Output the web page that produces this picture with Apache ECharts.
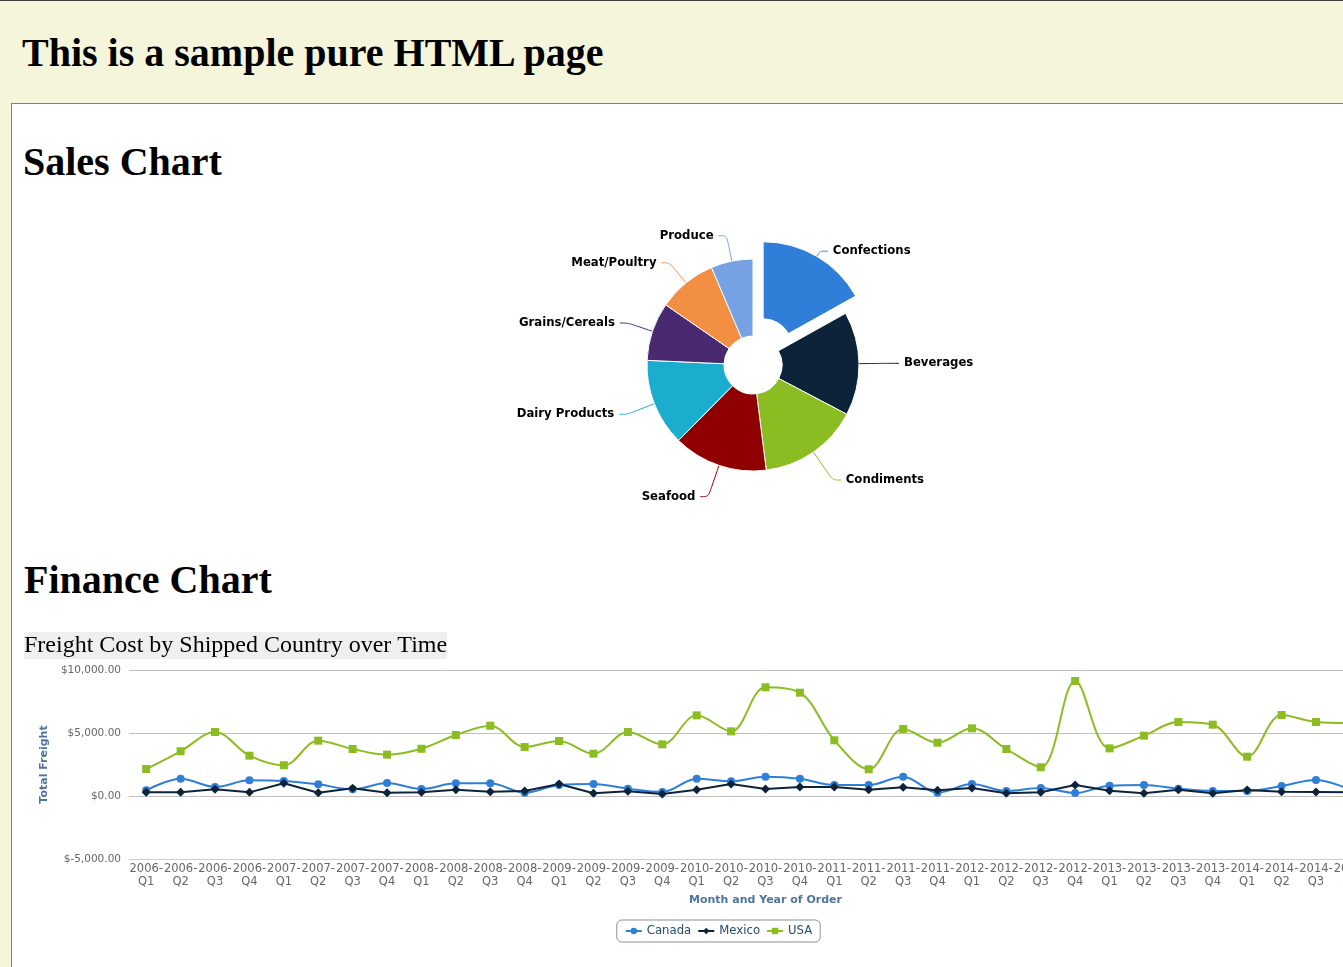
<!DOCTYPE html>
<html>
<head>
<meta charset="utf-8">
<title>This is a sample pure HTML page</title>
<script src="https://cdn.jsdelivr.net/npm/echarts@6/dist/echarts.min.js"></script>
<style>
  html, body { margin: 0; padding: 0; width: 1343px; height: 967px; overflow: hidden; }
  body { background: #f5f5dc; position: relative; }
  .topline { position: absolute; left: 0; top: 0; width: 1343px; height: 1px; background: #3c3c3c; }
  h1, h2 { position: absolute; margin: 0; font-family: "Liberation Serif", "Times New Roman", serif;
           font-weight: bold; font-size: 40px; line-height: 40px; color: #000; white-space: nowrap; }
  #pageTitle { left: 22px; top: 33px; }
  .panel { position: absolute; left: 11px; top: 103px; width: 1400px; height: 900px;
           background: #fff; border-left: 1px solid #808080; border-top: 1px solid #808080; }
  #salesTitle { left: 23px; top: 142px; }
  #financeTitle { left: 24px; top: 560px; }
  #pie { position: absolute; left: 12px; top: 190px; width: 1400px; height: 360px; }
  #line { position: absolute; left: 24px; top: 631px; width: 1389px; height: 330px; }
</style>
</head>
<body>
<div class="topline"></div>
<h1 id="pageTitle">This is a sample pure HTML page</h1>
<div class="panel"></div>
<h2 id="salesTitle">Sales Chart</h2>
<div id="pie"></div>
<h2 id="financeTitle">Finance Chart</h2>
<div id="line"></div>
<script>
  // pie: share of sales by category (clockwise from 12 o'clock)
  const categories = ['Confections', 'Beverages', 'Condiments', 'Seafood',
                      'Dairy Products', 'Grains/Cereals', 'Meat/Poultry', 'Produce'];
  const categorySales = [16.9, 15.8, 15.3, 14.4, 13.3, 8.9, 9.0, 6.4];
  const categoryColors = ['#2f7ed8', '#0d233a', '#8bbc21', '#910000',
                          '#1aadce', '#492970', '#f28f43', '#77a1e5'];

  // line: freight per quarter (last quarter is outside the visible page)
  const quarters = [
    '2006-Q1', '2006-Q2', '2006-Q3', '2006-Q4', '2007-Q1', '2007-Q2', '2007-Q3', '2007-Q4',
    '2008-Q1', '2008-Q2', '2008-Q3', '2008-Q4', '2009-Q1', '2009-Q2', '2009-Q3', '2009-Q4',
    '2010-Q1', '2010-Q2', '2010-Q3', '2010-Q4', '2011-Q1', '2011-Q2', '2011-Q3', '2011-Q4',
    '2012-Q1', '2012-Q2', '2012-Q3', '2012-Q4', '2013-Q1', '2013-Q2', '2013-Q3', '2013-Q4',
    '2014-Q1', '2014-Q2', '2014-Q3', '2014-Q4', '2015-Q1'
  ];
  const canada = [450, 1375, 714, 1245, 1190, 925, 530, 1030, 555, 1005, 1005, 265,
                  873, 952, 580, 317, 1375, 1164, 1534, 1375, 873, 873, 1534, 265,
                  952, 397, 635, 238, 820, 873, 580, 397, 397, 794, 1270, 500, null];
  const mexico = [290, 290, 530, 290, 1005, 265, 610, 265, 290, 500, 340, 397,
                  952, 212, 370, 160, 500, 952, 555, 714, 714, 500, 690, 450,
                  635, 212, 290, 873, 424, 212, 500, 212, 476, 340, 317, 300, null];
  const usa = [2140, 3550, 5080, 3200, 2440, 4390, 3730, 3280, 3750, 4840, 5580, 3890,
               4365, 3360, 5080, 4100, 6400, 5130, 8630, 8200, 4420, 2120, 5320, 4230,
               5370, 3730, 2280, 9130, 3780, 4790, 5870, 5660, 3120, 6430, 5870, 5780, null];
  const yTicks = { min: -5000, max: 10000, step: 5000 };

  const FONT = '"DejaVu Sans", Verdana, sans-serif';

  function money(v) {
    const sign = v < 0 ? '-' : '';
    const s = Math.abs(v).toFixed(2).replace(/\B(?=(\d{3})+(?!\d))/g, ',');
    return '$' + sign + s;
  }

  // per-slice connector tweaks so labels sit where the reference puts them
  const connectorFor = {
    'Confections': { length: 6 },
    'Beverages': { length2: 14 },
    'Condiments': { length: 34 },
    'Seafood': { length: 33 },
    'Dairy Products': { length: 29 }
  };

  const pie = echarts.init(document.getElementById('pie'), null, { renderer: 'canvas' });
  pie.setOption({
    animation: false,
    color: categoryColors,
    series: [{
      type: 'pie',
      center: [741, 175],
      radius: [29, 106],
      startAngle: 90,
      clockwise: true,
      avoidLabelOverlap: false,
      selectedMode: 'single',
      selectedOffset: 20,
      itemStyle: { borderColor: '#ffffff', borderWidth: 1 },
      label: {
        show: true,
        position: 'outside',
        fontFamily: FONT,
        fontSize: 11.7,
        fontWeight: 'bold',
        color: '#000',
        distanceToLabelLine: 5
      },
      labelLine: { show: true, length: 26, length2: 8, smooth: 0.3, lineStyle: { width: 1 } },
      emphasis: { disabled: true },
      data: categories.map((name, i) => ({
        name,
        value: categorySales[i],
        selected: i === 0,
        labelLine: connectorFor[name]
      }))
    }]
  });

  const line = echarts.init(document.getElementById('line'), null, { renderer: 'canvas' });
  line.setOption({
    animation: false,
    color: ['#2f7ed8', '#0d233a', '#8bbc21'],
    title: {
      text: 'Freight Cost by Shipped Country over Time',
      left: 0,
      top: 1,
      padding: 0,
      backgroundColor: '#efefef',
      textStyle: {
        fontFamily: '"Liberation Serif", "Times New Roman", serif',
        fontSize: 24,
        fontWeight: 'normal',
        color: '#000',
        lineHeight: 27
      }
    },
    grid: { left: 105, right: 11, top: 39, bottom: 102 },
    legend: {
      top: 289,
      left: 'center',
      borderColor: '#909090',
      borderWidth: 1,
      borderRadius: 5,
      padding: [5, 8],
      itemGap: 6,
      itemWidth: 16,
      itemHeight: 8,
      textStyle: { fontFamily: FONT, fontSize: 11.7, color: '#274b6d' },
      data: ['Canada', 'Mexico', 'USA']
    },
    xAxis: {
      type: 'category',
      data: quarters,
      boundaryGap: true,
      axisLine: { onZero: false, lineStyle: { color: '#c0d0e0', width: 1 } },
      axisTick: { length: 5, lineStyle: { color: '#c0d0e0' } },
      axisLabel: {
        interval: 0,
        margin: 4,
        color: '#666',
        fontFamily: FONT,
        fontSize: 11.5,
        lineHeight: 13,
        formatter: v => v.replace('-', '-\n')
      },
      name: 'Month and Year of Order',
      nameLocation: 'middle',
      nameGap: 36,
      nameTextStyle: { fontFamily: FONT, fontSize: 11, fontWeight: 'bold', color: '#4d759e' }
    },
    yAxis: {
      type: 'value',
      min: yTicks.min,
      max: yTicks.max,
      interval: yTicks.step,
      axisLine: { show: false },
      axisTick: { show: false },
      splitLine: { lineStyle: { color: '#c0c0c0', width: 1 } },
      axisLabel: { margin: 8, color: '#666', fontFamily: FONT, fontSize: 10.5, formatter: money },
      name: 'Total Freight',
      nameLocation: 'middle',
      nameGap: 76,
      nameTextStyle: { fontFamily: FONT, fontSize: 11, fontWeight: 'bold', color: '#4d759e' }
    },
    series: [
      { name: 'Canada', type: 'line', data: canada, smooth: 0.35, symbol: 'circle', symbolSize: 8,
        lineStyle: { width: 2 }, emphasis: { disabled: true } },
      { name: 'Mexico', type: 'line', data: mexico, smooth: false, symbol: 'diamond', symbolSize: 9,
        lineStyle: { width: 2 }, emphasis: { disabled: true } },
      { name: 'USA', type: 'line', data: usa, smooth: 0.35, symbol: 'rect', symbolSize: 8,
        lineStyle: { width: 2 }, emphasis: { disabled: true } }
    ]
  });
</script>
</body>
</html>
